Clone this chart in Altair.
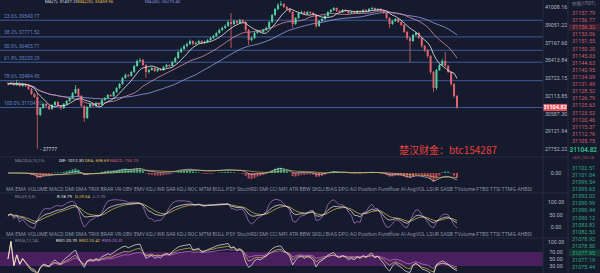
import altair as alt
import pandas as pd
import numpy as np

# ---------------- data ----------------
opens = [33250, 33180, 33275, 33092, 33275, 33000, 33184, 33000, 32730, 32283,
         32019, 30472, 31064, 31410, 31236, 30979, 31322, 31580, 31236, 31064,
         31410, 31667, 31930, 32373, 32730, 32107, 31236, 30222, 31150, 31410,
         31236, 31496, 31322, 31754, 31930, 32195, 32107, 32462, 32820, 33184,
         33735, 34015, 33922, 34297, 34867, 35349, 35446, 34963, 34297, 34485,
         34675, 34391, 34580, 34485, 34771, 34963, 34867, 35252, 35643, 36234,
         36536, 36838, 37042, 37348, 37042, 37144, 37348, 37144, 37246, 37451,
         37658, 37866, 38180, 38495, 38712, 38920, 39350, 39137, 39459, 39240,
         39568, 39350, 38495, 37451, 37658, 38180, 38390, 38285, 38495, 38712,
         39350, 40115, 40780, 41234, 41347, 41008, 40780, 40450, 39137, 39790,
         40337, 40450, 40226, 40450, 40337, 40115, 38920, 39459, 39680, 40005,
         40450, 40671, 40895, 40560, 40450, 40671, 40560, 40337, 40450, 40337,
         40560, 40450, 40671, 40560, 40780, 40895, 40671, 40780, 40560, 40337,
         39790, 39137, 39459, 39680, 39350, 39028, 38285, 37658, 37348, 37970,
         38180, 37658, 36838, 36434, 35840, 34297, 32820, 34485, 34963, 35349,
         34867, 34297, 33184, 32107]
highs = [33380, 33420, 33400, 33560, 33350, 33300, 33260, 33080, 32820, 32373,
         32373, 31150, 31500, 31500, 31322, 31410, 31670, 31670, 31322, 31500,
         31754, 32019, 32462, 33092, 32820, 32195, 31322, 31236, 31500, 31500,
         31580, 31580, 31842, 32019, 32283, 32283, 32550, 32910, 33275, 33830,
         34150, 34100, 34400, 34980, 35500, 35650, 35560, 35050, 34600, 34780,
         34750, 34680, 34650, 34880, 35080, 35040, 35360, 35760, 36400, 36700,
         37000, 37200, 37500, 37420, 37300, 37480, 37420, 37380, 37560, 37780,
         38000, 38300, 38650, 38850, 39100, 39500, 40340, 39600, 39550, 39700,
         39650, 39450, 38600, 37800, 38300, 38520, 38450, 38620, 38850, 39480,
         40250, 40900, 41460, 41690, 41460, 41120, 40890, 40560, 39900, 40450,
         40600, 40560, 40560, 40560, 40450, 40226, 39570, 39790, 40115, 40560,
         40780, 41008, 40950, 40671, 40780, 40780, 40671, 40560, 40560, 40671,
         40671, 40780, 40780, 40895, 41008, 40950, 40895, 40895, 40671, 40450,
         39900, 39570, 39790, 39790, 39459, 39137, 38390, 37760, 38080, 38285,
         38285, 37760, 36940, 36534, 35938, 34391, 34580, 35060, 35545, 36234,
         34963, 34391, 33275, 32200]
lows = [33050, 33080, 32980, 33000, 32900, 32920, 32900, 32640, 32195, 31930,
        27777, 30390, 30980, 31150, 30890, 30890, 31236, 31150, 30890, 30980,
        31322, 31580, 31842, 32283, 32019, 31150, 29890, 30140, 31064, 31150,
        31150, 31236, 31236, 31667, 31842, 32019, 32019, 32373, 32730, 33092,
        33650, 33800, 33850, 34200, 34780, 35250, 34850, 33730, 34150, 34400,
        34280, 34300, 34380, 34400, 34680, 34760, 34780, 35150, 35560, 36120,
        36440, 36700, 36950, 36900, 36950, 37050, 37030, 37050, 37150, 37350,
        37560, 37780, 38080, 38400, 38600, 38820, 36640, 39000, 39100, 39150,
        39200, 38300, 36940, 37300, 37560, 38080, 38150, 38180, 38400, 38620,
        39250, 40000, 40650, 41100, 40890, 40650, 40340, 38710, 39030, 39680,
        40230, 40115, 40115, 40226, 40000, 38710, 38810, 39350, 39570, 39900,
        40340, 40560, 40450, 40340, 40340, 40450, 40226, 40226, 40226, 40226,
        40337, 40337, 40450, 40450, 40671, 40560, 40560, 40450, 40226, 39680,
        38710, 39030, 39350, 39240, 38920, 38180, 37451, 35252, 37246, 37866,
        37550, 36640, 36234, 35643, 34100, 32460, 32640, 34391, 34867, 34771,
        34200, 33000, 31930, 31000]
closes = [33180, 33275, 33092, 33275, 33000, 33184, 33000, 32730, 32283, 32019,
          30472, 31064, 31410, 31236, 30979, 31322, 31580, 31236, 31064, 31410,
          31667, 31930, 32373, 32730, 32107, 31236, 30222, 31150, 31410, 31236,
          31496, 31322, 31754, 31930, 32195, 32107, 32462, 32820, 33184, 33735,
          34015, 33922, 34297, 34867, 35349, 35446, 34963, 34297, 34485, 34675,
          34391, 34580, 34485, 34771, 34963, 34867, 35252, 35643, 36234, 36536,
          36838, 37042, 37348, 37042, 37144, 37348, 37144, 37246, 37451, 37658,
          37866, 38180, 38495, 38712, 38920, 39350, 39137, 39459, 39240, 39568,
          39350, 38495, 37451, 37658, 38180, 38390, 38285, 38495, 38712, 39350,
          40115, 40780, 41234, 41347, 41008, 40780, 40450, 39137, 39790, 40337,
          40450, 40226, 40450, 40337, 40115, 38920, 39459, 39680, 40005, 40450,
          40671, 40895, 40560, 40450, 40671, 40560, 40337, 40450, 40337, 40560,
          40450, 40671, 40560, 40780, 40895, 40671, 40780, 40560, 40337, 39790,
          39137, 39459, 39680, 39350, 39028, 38285, 37658, 37348, 37970, 38180,
          37658, 36838, 36434, 35840, 34297, 32820, 34485, 34963, 35349, 34867,
          34297, 33184, 32107, 31104.82]

fib_labels = ["23.6%", "38.2%", "50.0%", "61.8%", "78.6%", "100.0%"]
fib_prices = [39540.77, 37771.52, 36405.71, 35230.29, 33484.45, 31104.82]
price_ticks = [41008.16, 39051.22, 37167.60, 35413.84, 33722.15, 32113.85,
               30587.30, 29121.94, 27752.22]
last_price = 31104.82
low_text = "- 27777"
ask_prices = [31157.79, 31156.77, 31156.32, 31153.06, 31151.55, 31150.20, 31145.03,
              31144.63, 31140.95, 31134.09, 31131.49, 31128.52, 31126.79, 31125.63,
              31123.52, 31120.46, 31115.37, 31112.76, 31105.75]
bid_prices = [31102.51, 31101.04, 31099.54, 31095.63, 31093.02, 31090.99, 31090.44,
              31090.12, 31083.82, 31082.53, 31078.92, 31078.50, 31077.95, 31077.19,
              31075.44]
indicator_names = ["MA", "EMA", "VOLUME", "MACD", "DMI", "DMA", "TRIX", "BRAR", "VR",
                   "OBV", "EMV", "KDJ", "WR", "SAR", "KDJ", "ROC", "MTM", "BOLL", "PSY",
                   "StochRSI", "SMI", "CCI", "MFI", "ATR", "BBW", "SKDJ", "BIAS", "DPO",
                   "AO", "Position", "Fundflow", "AI-AvgVOL", "LSUR", "SASB", "TVolume",
                   "FTBS", "TTSI", "TTMG", "AHBSI"]
macd_ticks = [0.0]
kdj_ticks = [100.0, 50.0, 0.0]
rsi_ticks = [100.0, 70.0, 50.0, 30.0]

# ---------------- styles ----------------
BG = "#151a2c"
UP = "#55cf9f"
DOWN = "#e0646f"
FIB = "#3f5c9c"
FIBTXT = "#6282c8"
AXTXT = "#b4b8c6"
GRAY = "#8a90a6"
SEP = "#262b40"
FONT = "Roboto"

n = len(closes)
df = pd.DataFrame({"i": np.arange(n), "open": opens, "high": highs,
                   "low": lows, "close": closes})
c = df["close"]
df["ma7"] = c.rolling(7, min_periods=1).mean()
df["ma20"] = c.rolling(20, min_periods=1).mean()
df["ma40"] = c.rolling(40, min_periods=1).mean()
ema5 = c.ewm(span=5, adjust=False).mean()
ema10 = c.ewm(span=10, adjust=False).mean()
df["dif"] = ema5 - ema10
df["dea"] = df["dif"].ewm(span=15, adjust=False).mean()
df["hist"] = 2 * (df["dif"] - df["dea"])
df["zero"] = 0.0
llv = df["low"].rolling(9, min_periods=1).min()
hhv = df["high"].rolling(9, min_periods=1).max()
rsv = ((c - llv) / (hhv - llv) * 100).fillna(50)
K, D = [], []
kp = dp = 50.0
for r in rsv:
    kp = 2 / 3 * kp + r / 3
    dp = 2 / 3 * dp + kp / 3
    K.append(kp)
    D.append(dp)
df["k"] = K
df["d"] = D
df["j"] = 3 * df["k"] - 2 * df["d"]


def rsi(series, p):
    delta = series.diff().fillna(0)
    up = delta.clip(lower=0).ewm(alpha=1 / p, adjust=False).mean()
    dn = (-delta.clip(upper=0)).ewm(alpha=1 / p, adjust=False).mean()
    return (100 * up / (up + dn)).fillna(50)


df["rsi6"] = rsi(c, 6)
df["rsi12"] = rsi(c, 12)
df["rsi24"] = rsi(c, 24)

# ---------------- scales ----------------
xs = alt.Scale(domain=[0, n - 1], range=[3, 462], nice=False, zero=False)
X = alt.X("i:Q", scale=xs, axis=None)
pscale = alt.Scale(type="log", domain=[27295, 41805], range=[155, 0], nice=False, zero=False)
m = float(df["hist"].abs().max()) * 1.05
mscale = alt.Scale(domain=[-m, m], range=[182, 164], nice=False, zero=False)
kscale = alt.Scale(domain=[-20, 120], range=[232, 197], nice=False, zero=False, clamp=True)
rscale = alt.Scale(domain=[0, 100], range=[276.5, 241.5], nice=False, zero=False)


def Yq(field, scale):
    return alt.Y(field, type="quantitative", scale=scale, axis=None)


def label(text, x, y, color=GRAY, size=5.0, weight="normal", align="left", font=FONT):
    return alt.Chart(pd.DataFrame({"t": [text]})).mark_text(
        align=align, baseline="middle", fontSize=size, font=font,
        fontWeight=weight, color=color
    ).encode(text="t:N", x=alt.value(x), y=alt.value(y))


def hline(y, x0, x1, color=SEP, w=1.0):
    return alt.Chart(pd.DataFrame({"a": [0]})).mark_rule(color=color, strokeWidth=w).encode(
        x=alt.value(x0), x2=alt.value(x1), y=alt.value(y))


def vline(x, y0, y1, color=SEP, w=1.0):
    return alt.Chart(pd.DataFrame({"a": [0]})).mark_rule(color=color, strokeWidth=w).encode(
        y=alt.value(y0), y2=alt.value(y1), x=alt.value(x))


base = alt.Chart(df)
candle_color = alt.condition("datum.close >= datum.open", alt.value(UP), alt.value(DOWN))

# ---------------- price panel ----------------
fib_df = pd.DataFrame({"price": fib_prices,
                       "lab": [f"{a} {b:.2f}" for a, b in zip(fib_labels, fib_prices)]})
fib_rules = alt.Chart(fib_df).mark_rule(color=FIB, strokeWidth=1).encode(
    y=Yq("price", pscale), x=alt.value(0), x2=alt.value(543))
fib_text = alt.Chart(fib_df).mark_text(align="left", baseline="bottom", dy=-1.5,
                                       fontSize=5, font=FONT, color=FIBTXT).encode(
    y=Yq("price", pscale), x=alt.value(4), text="lab:N")
wicks = base.mark_rule(strokeWidth=0.8).encode(x=X, y=Yq("low", pscale), y2="high:Q",
                                                 color=candle_color)
bodies = base.mark_bar(size=2).encode(x=X, y=Yq("open", pscale), y2="close:Q",
                                       color=candle_color)
ma7 = base.mark_line(color="#e4ecea", strokeWidth=0.8).encode(x=X, y=Yq("ma7", pscale))
ma20 = base.mark_line(color="#d88ea6", strokeWidth=0.8).encode(x=X, y=Yq("ma20", pscale))
ma40 = base.mark_line(color="#8890d8", strokeWidth=0.9).encode(x=X, y=Yq("ma40", pscale))
tick_df = pd.DataFrame({"p": price_ticks})
tick_text = alt.Chart(tick_df).mark_text(align="center", baseline="middle", fontSize=5.3,
                                         font=FONT, color=AXTXT).encode(
    y=Yq("p", pscale), x=alt.value(556), text=alt.Text("p:Q", format=".2f"))
last_df = pd.DataFrame({"p": [last_price]})
last_box = alt.Chart(last_df).mark_point(
    shape="M-1,-0.3L1,-0.3L1,0.3L-1,0.3Z", size=576, filled=True, opacity=1,
    color="#e2545e").encode(y=Yq("p", pscale), x=alt.value(555))
last_text = alt.Chart(last_df).mark_text(align="center", baseline="middle", fontSize=5.5,
                                         font=FONT, fontWeight="bold", color="#ffffff").encode(
    y=Yq("p", pscale), x=alt.value(555), text=alt.Text("p:Q", format=".2f"))
low_df = pd.DataFrame({"i": [int(np.argmin(lows))], "low": [min(lows)], "t": [low_text]})
low_mark = alt.Chart(low_df).mark_text(align="left", baseline="middle", dx=3, fontSize=5,
                                       font=FONT, color="#d8dbe4").encode(
    x=X, y=Yq("low", pscale), text="t:N")
price_group = alt.layer(fib_rules, fib_text, ma40, ma20, wicks, bodies, ma7,
                        tick_text, last_box, last_text, low_mark)

# ---------------- MACD panel ----------------
macd_bars = base.mark_bar(size=2, opacity=0.85).encode(
    x=X, y=Yq("hist", mscale), y2="zero:Q",
    color=alt.condition("datum.hist >= 0", alt.value("#2fb887"), alt.value("#d9525e")))
dif_line = base.mark_line(color="#e6e6ea", strokeWidth=0.6).encode(x=X, y=Yq("dif", mscale))
dea_line = base.mark_line(color="#e2c35a", strokeWidth=0.6).encode(x=X, y=Yq("dea", mscale))
macd_tick = alt.Chart(pd.DataFrame({"v": macd_ticks})).mark_text(
    align="center", baseline="middle", fontSize=5.3, font=FONT, color=AXTXT).encode(
    y=Yq("v", mscale), x=alt.value(556), text=alt.Text("v:Q", format=".2f"))
macd_group = alt.layer(macd_bars, dif_line, dea_line, macd_tick)

# ---------------- KDJ panel ----------------
k_line = base.mark_line(color="#eeeeee", strokeWidth=0.7).encode(x=X, y=Yq("k", kscale))
d_line = base.mark_line(color="#e2c35a", strokeWidth=0.7).encode(x=X, y=Yq("d", kscale))
j_line = base.mark_line(color="#b77ad0", strokeWidth=0.7).encode(x=X, y=Yq("j", kscale))
kdj_tick = alt.Chart(pd.DataFrame({"v": kdj_ticks})).mark_text(
    align="center", baseline="middle", fontSize=5.3, font=FONT, color=AXTXT).encode(
    y=Yq("v", kscale), x=alt.value(556), text=alt.Text("v:Q", format=".2f"))
kdj_group = alt.layer(j_line, d_line, k_line, kdj_tick)

# ---------------- RSI panel ----------------
band = alt.Chart(pd.DataFrame({"hi": [70.0], "lo": [30.0]})).mark_rect(color="#4a1f5e").encode(
    x=alt.value(0), x2=alt.value(543), y=Yq("hi", rscale), y2="lo:Q")
r1 = base.mark_line(color="#f0f0f0", strokeWidth=0.7).encode(x=X, y=Yq("rsi6", rscale))
r2 = base.mark_line(color="#e2c35a", strokeWidth=0.7).encode(x=X, y=Yq("rsi12", rscale))
r3 = base.mark_line(color="#c47ad8", strokeWidth=0.7).encode(x=X, y=Yq("rsi24", rscale))
rsi_tick = alt.Chart(pd.DataFrame({"v": rsi_ticks})).mark_text(
    align="center", baseline="middle", fontSize=5.3, font=FONT, color=AXTXT).encode(
    y=Yq("v", rscale), x=alt.value(556), text=alt.Text("v:Q", format=".2f"))
rsi_group = alt.layer(band, r3, r2, r1, rsi_tick)

# ---------------- order book ----------------
ascale = alt.Scale(domain=[0, len(ask_prices) - 1], range=[13, 141], nice=False, zero=False)
bscale = alt.Scale(domain=[0, len(bid_prices) - 1], range=[168, 267], nice=False, zero=False)
ask_df = pd.DataFrame({"r": np.arange(len(ask_prices)), "p": ask_prices})
bid_df = pd.DataFrame({"r": np.arange(len(bid_prices)), "p": bid_prices})
ask_hl = alt.Chart(ask_df[ask_df.r == 2]).mark_rule(color="#3a2030", strokeWidth=7).encode(
    x=alt.value(569), x2=alt.value(600), y=Yq("r", ascale))
ask_txt = alt.Chart(ask_df).mark_text(align="left", baseline="middle", fontSize=5.5,
                                      font=FONT, color="#cf5b69").encode(
    x=alt.value(572), y=Yq("r", ascale), text=alt.Text("p:Q", format=".2f"))
ask_group = alt.layer(ask_hl, ask_txt)
bid_hl = alt.Chart(bid_df[bid_df.r == 12]).mark_rule(color="#143a33", strokeWidth=7).encode(
    x=alt.value(569), x2=alt.value(600), y=Yq("r", bscale))
bid_txt = alt.Chart(bid_df).mark_text(align="left", baseline="middle", fontSize=5.5,
                                      font=FONT, color="#2aa97c").encode(
    x=alt.value(572), y=Yq("r", bscale), text=alt.Text("p:Q", format=".2f"))
bid_group = alt.layer(bid_hl, bid_txt)

# ---------------- decorations / texts ----------------
sep = [hline(157, 0, 568), hline(193, 0, 568), hline(238, 0, 568),
       vline(543, 0, 273), vline(568, 0, 273)]
names_row = "  ".join(indicator_names)
HS = 4.4
texts = [
    label("MA(7): 31437.23", 45, 2, "#d9dbe2", 4.4),
    label("MA(20): 33459.96", 78, 2, "#e2c35a", 4.4),
    label("MA(40): 36270.40", 145, 2, "#8890d8", 4.4),
    label("价格(USDT)", 572, 4, GRAY, 4.5, font="Noto Sans CJK SC"),
    label("MACD(5,10,15)", 15, 161, GRAY, HS),
    label("DIF: 1012.30", 59, 161, "#e6e6ea", HS),
    label("DEA: 698.69", 85, 161, "#e2c35a", HS),
    label("MACD: 755.23", 110, 161, "#d9607a", HS),
    label(names_row, 6, 189, GRAY, 5.2),
    label("KDJ(9,3,3)", 15, 197, GRAY, HS),
    label("K:18.79", 57, 197, "#eeeeee", HS),
    label("D:29.54", 75, 197, "#e2c35a", HS),
    label("J:-2.70", 92, 197, "#b77ad0", HS),
    label(names_row, 6, 234, GRAY, 5.2),
    label("RSI(6,12,24)", 15, 241, GRAY, HS),
    label("RSI1:20.70", 56, 241, "#eeeeee", HS),
    label("RSI2:25.42", 79, 241, "#e2c35a", HS),
    label("RSI3:20.31", 102, 241, "#c47ad8", HS),
    label("楚汉财金：btc154287", 399, 151, "#e8403a", 10, font="Noto Sans CJK SC"),
    label("31104.82", 569.5, 150, "#2ebd85", 6.4, "bold"),
    label("≈$31,105.28", 572, 157.5, "#a05a6a", 4.0),
]

chart = alt.layer(
    rsi_group, price_group, macd_group, kdj_group, ask_group, bid_group, *sep, *texts
).resolve_scale(y="independent").properties(
    width=600, height=273, background=BG, padding=0,
    autosize=alt.AutoSizeParams(type="none")
).configure_view(strokeWidth=0)

chart.save("out.html", embed_options={"renderer": "svg", "actions": False})
